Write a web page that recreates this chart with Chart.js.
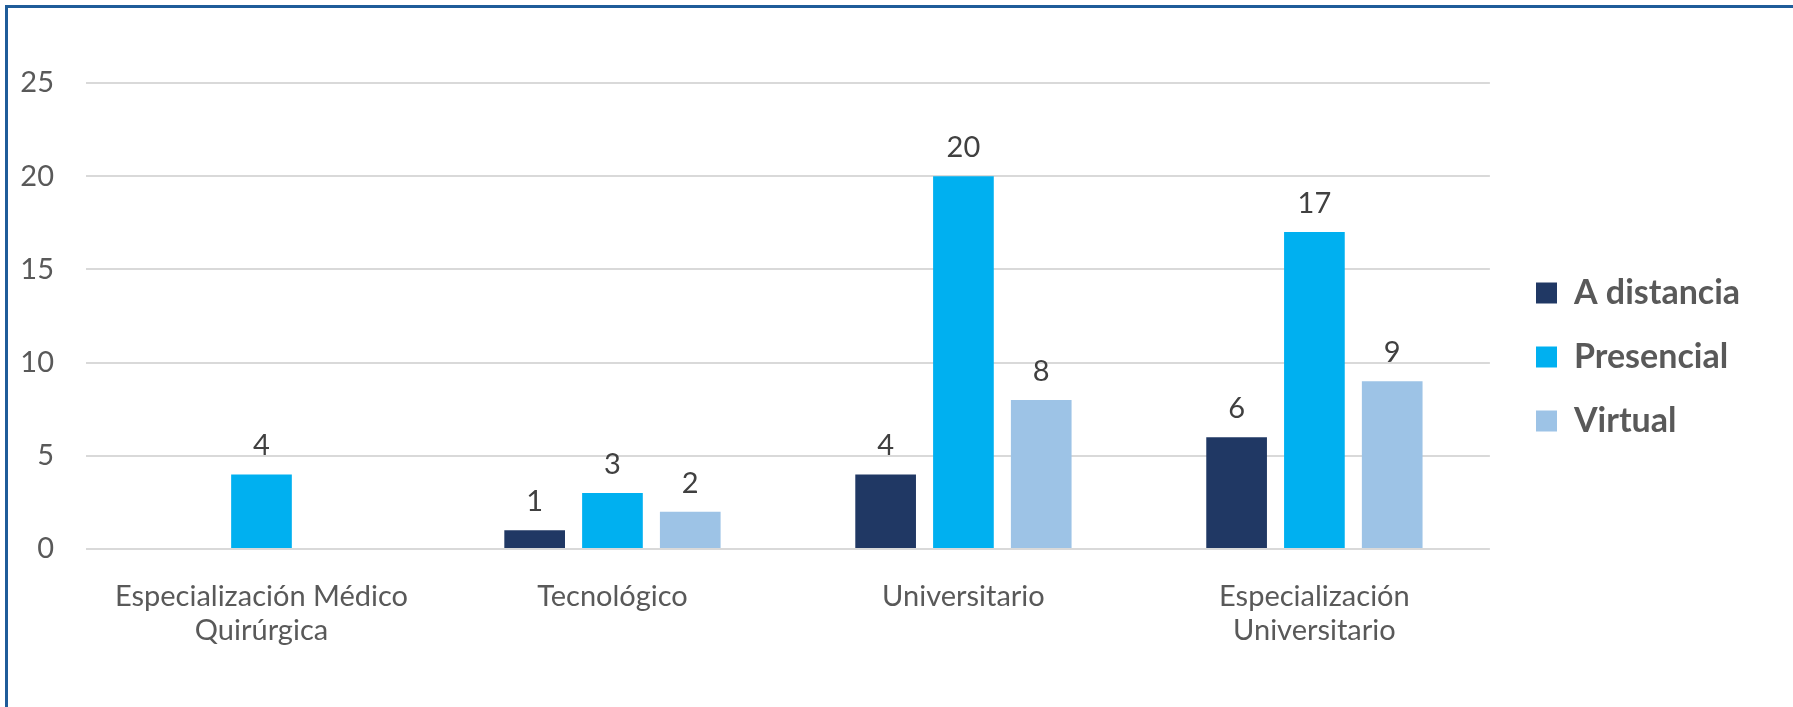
<!DOCTYPE html>
<html>
<head>
<meta charset="utf-8">
<script src="https://cdn.jsdelivr.net/npm/chart.js@4.4.1/dist/chart.umd.min.js"></script>
<style>
  html, body { margin: 0; padding: 0; background: #ffffff; }
  .wrap { position: relative; width: 1793px; height: 707px; overflow: hidden; }
  .frame {
    position: absolute; left: 5px; top: 5px; right: 0; bottom: 0;
    border-top: 3px solid #1f5c99; border-left: 3px solid #1f5c99;
    pointer-events: none;
  }
  canvas { position: absolute; left: 0; top: 0; }
</style>
</head>
<body>
<div class="wrap">
  <canvas id="modalidadChart" width="1793" height="707"></canvas>
  <div class="frame"></div>
</div>
<script>
  // Data
  const categories = [
    ['Especialización Médico', 'Quirúrgica'],
    'Tecnológico',
    'Universitario',
    ['Especialización', 'Universitario']
  ];
  const aDistancia = [null, 1, 4, 6];
  const presencial = [4, 3, 20, 17];
  const virtual = [null, 2, 8, 9];
  const yTicks = [0, 5, 10, 15, 20, 25];

  const labelFont = { family: 'Lato', size: 29, lineHeight: 1.17 };

  // Value labels above each bar
  const valueLabels = {
    id: 'valueLabels',
    afterDatasetsDraw(chart) {
      const ctx = chart.ctx;
      ctx.save();
      ctx.font = '29px Lato';
      ctx.fillStyle = '#404040';
      ctx.textAlign = 'center';
      ctx.textBaseline = 'alphabetic';
      chart.data.datasets.forEach((ds, i) => {
        chart.getDatasetMeta(i).data.forEach((bar, j) => {
          const v = ds.data[j];
          if (v === null || v === undefined) return;
          ctx.fillText(String(v), bar.x, bar.y - 19);
        });
      });
      ctx.restore();
    }
  };

  // Put the legend where the original sits
  const legendPlace = {
    id: 'legendPlace',
    afterLayout(chart) {
      const lg = chart.legend;
      if (!lg) return;
      const w = lg.width, h = lg.height;
      lg.left = 1506; lg.right = lg.left + w;
      lg.top = 246; lg.bottom = lg.top + h;
    }
  };

  const ctx = document.getElementById('modalidadChart').getContext('2d');

  const chartData = {
    labels: categories,
    datasets: [
      {
        label: 'A distancia',
        data: aDistancia,
        backgroundColor: '#203864',
        categoryPercentage: 0.665,
        barPercentage: 0.78,
      },
      {
        label: 'Presencial',
        data: presencial,
        backgroundColor: '#00b0f0',
        categoryPercentage: 0.665,
        barPercentage: 0.78,
      },
      {
        label: 'Virtual',
        data: virtual,
        backgroundColor: '#9dc3e6',
        categoryPercentage: 0.665,
        barPercentage: 0.78,
      }
    ]
  };

  const chartConfig = {
    type: 'bar',
    data: chartData,
    plugins: [valueLabels, legendPlace],
    options: {
      responsive: false,
      animation: false,
      layout: {
        padding: { top: 83, right: 59, bottom: 0, left: 0 }
      },
      plugins: {
        legend: {
          position: 'right',
          align: 'start',
          labels: {
            boxWidth: 21,
            boxHeight: 21,
            padding: 30,
            color: '#595959',
            font: { family: 'Lato', size: 34, weight: 'bold' }
          }
        },
        tooltip: { enabled: false }
      },
      scales: {
        x: {
          grid: { display: false },
          border: { display: false },
          ticks: {
            color: '#595959',
            font: labelFont,
            padding: 23,
            maxRotation: 0,
            autoSkip: false
          },
          afterFit(scale) { scale.height = 158; }
        },
        y: {
          min: 0,
          max: 25,
          border: { display: false },
          grid: {
            color: '#d9d9d9',
            lineWidth: 2,
            drawTicks: false
          },
          afterBuildTicks(scale) {
            scale.ticks = yTicks.map(v => ({ value: v }));
          },
          ticks: {
            color: '#595959',
            font: labelFont,
            padding: 32
          },
          afterFit(scale) { scale.width = 86; }
        }
      }
    }
  };

  const modalidadChart = new Chart(ctx, chartConfig);
</script>
</body>
</html>
